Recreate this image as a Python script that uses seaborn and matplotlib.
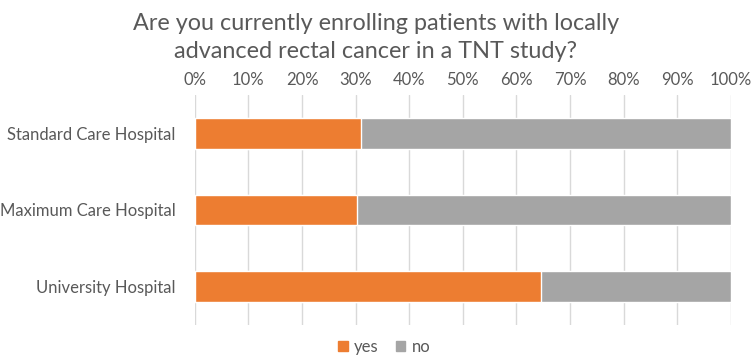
import numpy as np
import pandas as pd
import matplotlib
matplotlib.use("Agg")
import matplotlib.pyplot as plt
import seaborn as sns
from matplotlib.patches import Patch
from matplotlib.ticker import PercentFormatter

hospitals = ["Standard Care Hospital", "Maximum Care Hospital", "University Hospital"]
yes_pct = [31.0, 30.2, 64.6]
no_pct = [69.0, 69.8, 35.4]

df = pd.DataFrame({"hospital": hospitals, "yes": yes_pct, "no": no_pct})
df["total"] = df["yes"] + df["no"]

sns.set_theme(style="white")
plt.rcParams["font.family"] = ["Lato", "DejaVu Sans"]

orange = "#ED7D31"
grey = "#A5A5A5"
text_col = "#595959"

fig = plt.figure(figsize=(7.52, 3.58), dpi=100)
ax = fig.add_axes([0.259, 0.092, 0.713, 0.643])

# stacked: full bar in grey, "yes" part on top in orange
sns.barplot(data=df, y="hospital", x="total", color=grey, orient="h",
            width=0.4, ax=ax, saturation=1)
sns.barplot(data=df, y="hospital", x="yes", color=orange, orient="h",
            width=0.4, ax=ax, saturation=1)

ax.set_xlim(0, 100)
ax.set_ylim(2.5, -0.5)
ax.set_xticks(np.arange(0, 101, 10))
ax.xaxis.set_major_formatter(PercentFormatter(decimals=0))
ax.xaxis.tick_top()
ax.tick_params(axis="x", length=0, pad=5, labelsize=12, colors=text_col)
ax.tick_params(axis="y", length=0, pad=14, labelsize=12, colors=text_col)
ax.set_xlabel("")
ax.set_ylabel("")
ax.grid(axis="x", color="#D9D9D9", linewidth=1)
ax.set_axisbelow(True)
for s in ax.spines.values():
    s.set_visible(False)

fig.text(0.5, 0.895, "Are you currently enrolling patients with locally\nadvanced rectal cancer in a TNT study?",
         ha="center", va="center", fontsize=16.8, color=text_col, linespacing=1.45)

handles = [Patch(color=orange, label="yes"), Patch(color=grey, label="no")]
fig.legend(handles=handles, loc="center", bbox_to_anchor=(0.511, 0.031), ncol=2,
           frameon=False, fontsize=12, handlelength=0.55, handleheight=0.55,
           handletextpad=0.4, columnspacing=1.0, labelcolor=text_col,
           borderpad=0)

fig.savefig("out.png", dpi=100)
